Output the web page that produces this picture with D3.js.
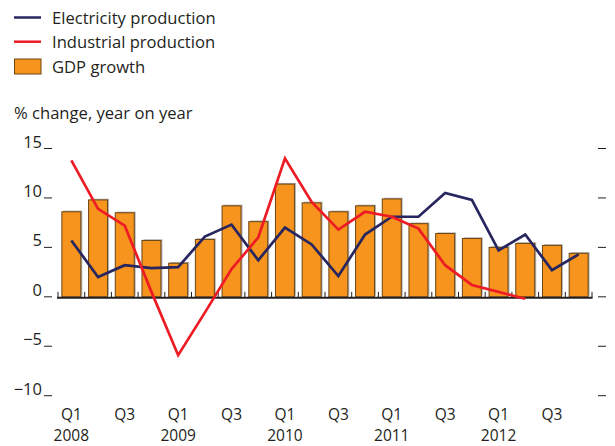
<!DOCTYPE html>
<html>
<head>
<meta charset="utf-8">
<script src="https://cdn.jsdelivr.net/npm/d3@7"></script>
<style>
  body { margin: 0; background: #fff; }
  svg text { font-family: "Open Sans", "Noto Sans", sans-serif; fill: #231f20; }
</style>
</head>
<body>
<svg id="chart" width="615" height="446"></svg>
<script>
var quarters = ["2008Q1","2008Q2","2008Q3","2008Q4","2009Q1","2009Q2","2009Q3","2009Q4",
                "2010Q1","2010Q2","2010Q3","2010Q4","2011Q1","2011Q2","2011Q3","2011Q4",
                "2012Q1","2012Q2","2012Q3","2012Q4"];
var gdp = [8.6, 9.8, 8.5, 5.7, 3.4, 5.8, 9.2, 7.6, 11.4, 9.5, 8.6, 9.2, 9.9, 7.4, 6.4, 5.9, 5.0, 5.4, 5.2, 4.4];
var electricity = [5.7, 2.0, 3.2, 2.9, 3.0, 6.1, 7.3, 3.7, 7.0, 5.3, 2.1, 6.3, 8.1, 8.1, 10.5, 9.8, 4.7, 6.3, 2.7, 4.3];
var industrial = [13.8, 8.9, 7.2, 0.5, -5.9, -1.6, 2.8, 6.0, 14.0, 9.6, 6.8, 8.6, 8.1, 6.9, 3.2, 1.2, 0.5, -0.2];
var yTicks = [-10, -5, 0, 5, 10, 15];
var legendItems = ["Electricity production", "Industrial production", "GDP growth"];

var navy = "#27265f", red = "#ed1c24", orange = "#f7941d";

var svg = d3.select("#chart");

var x = d3.scaleBand().domain(quarters).range([58, 592]).paddingInner(0.29).paddingOuter(0.145);
var y = d3.scaleLinear().domain([-10, 15]).range([395.7, 148.5]);
var step = x.step();

// legend
var lg = svg.append("g");
lg.append("line").attr("x1", 14).attr("x2", 41).attr("y1", 17.5).attr("y2", 17.5)
  .attr("stroke", navy).attr("stroke-width", 2.5);
lg.append("line").attr("x1", 14).attr("x2", 41).attr("y1", 41.7).attr("y2", 41.7)
  .attr("stroke", red).attr("stroke-width", 2.5);
lg.append("rect").attr("x", 14.5).attr("y", 59).attr("width", 26.5).attr("height", 15)
  .attr("fill", orange).attr("stroke", "#6b4513").attr("stroke-width", 1);
lg.selectAll("text").data(legendItems).enter().append("text")
  .attr("x", 52).attr("y", function(d, i) { return [24, 48.3, 73.3][i]; })
  .style("font-size", "16.6px").text(function(d) { return d; });

svg.append("text").attr("x", 14).attr("y", 119).style("font-size", "16.6px")
  .text("% change, year on year");

// y ticks left and right
var yt = svg.append("g");
yt.selectAll(".lt").data(yTicks).enter().append("line")
  .attr("x1", 44).attr("x2", 52).attr("y1", function(d) { return y(d); }).attr("y2", function(d) { return y(d); })
  .attr("stroke", "#231f20").attr("stroke-width", 1);
yt.selectAll(".rt").data(yTicks).enter().append("line")
  .attr("x1", 598).attr("x2", 606).attr("y1", function(d) { return y(d); }).attr("y2", function(d) { return y(d); })
  .attr("stroke", "#231f20").attr("stroke-width", 1);
yt.selectAll("text").data(yTicks).enter().append("text")
  .attr("x", 42).attr("y", function(d) { return y(d) - 1; })
  .attr("text-anchor", "end").style("font-size", "16.5px")
  .text(function(d) { return d < 0 ? "\u2212" + Math.abs(d) : d; });

// bars with soft shadow
var bars = svg.append("g");
bars.selectAll(".shadow").data(gdp).enter().append("rect")
  .attr("x", function(d, i) { return x(quarters[i]) + 1.5; })
  .attr("y", function(d) { return y(d) - 1.2; })
  .attr("width", x.bandwidth())
  .attr("height", function(d) { return y(0) - y(d); })
  .attr("fill", "#b5b5b5");
bars.selectAll(".bar").data(gdp).enter().append("rect")
  .attr("x", function(d, i) { return x(quarters[i]); })
  .attr("y", function(d) { return y(d); })
  .attr("width", x.bandwidth())
  .attr("height", function(d) { return y(0) - y(d); })
  .attr("fill", orange).attr("stroke", "#6b4513").attr("stroke-width", 1);

// baseline with quarter ticks
svg.append("line").attr("x1", 57).attr("x2", 592.5).attr("y1", y(0) + 1).attr("y2", y(0) + 1)
  .attr("stroke", "#231f20").attr("stroke-width", 2);
svg.selectAll(".qt").data(d3.range(quarters.length + 1)).enter().append("line")
  .attr("x1", function(i) { return 58 + i * step; }).attr("x2", function(i) { return 58 + i * step; })
  .attr("y1", y(0) - 5).attr("y2", y(0) + 1)
  .attr("stroke", "#231f20").attr("stroke-width", 1);

// lines
var line = d3.line()
  .x(function(d, i) { return x(quarters[i]) + x.bandwidth() / 2; })
  .y(function(d) { return y(d); });
svg.append("path").datum(electricity).attr("d", line)
  .attr("fill", "none").attr("stroke", navy).attr("stroke-width", 2.7).attr("stroke-linejoin", "miter");
svg.append("path").datum(industrial).attr("d", line)
  .attr("fill", "none").attr("stroke", red).attr("stroke-width", 2.7).attr("stroke-linejoin", "miter");

// x labels
var xl = svg.append("g");
quarters.forEach(function(q, i) {
  var qn = q.slice(4), yr = q.slice(0, 4);
  var cx = x(q) + x.bandwidth() / 2;
  if (qn === "Q1" || qn === "Q3") {
    xl.append("text").attr("x", cx).attr("y", 420).attr("text-anchor", "middle")
      .style("font-size", "15.5px").text(qn);
  }
  if (qn === "Q1") {
    xl.append("text").attr("x", cx).attr("y", 441).attr("text-anchor", "middle")
      .style("font-size", "15.5px").text(yr);
  }
});
</script>
</body>
</html>
